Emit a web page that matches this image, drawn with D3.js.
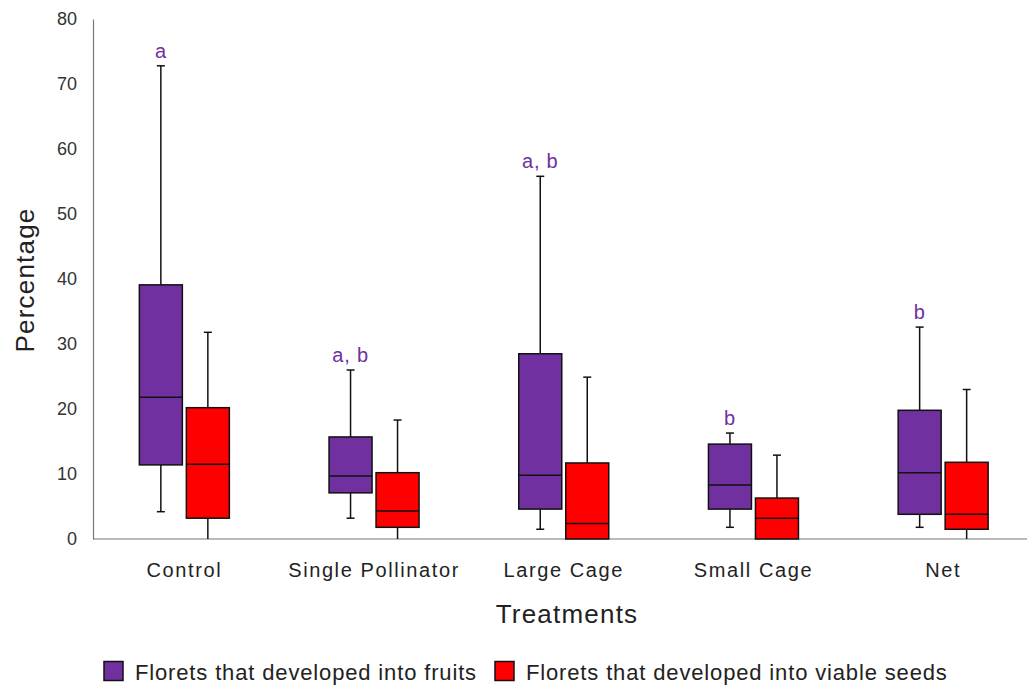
<!DOCTYPE html>
<html>
<head>
<meta charset="utf-8">
<script src="https://cdn.jsdelivr.net/npm/d3@7"></script>
<style>
  body { margin: 0; background: #fff; }
  text { font-family: "Liberation Sans", Arial, sans-serif; }
</style>
</head>
<body>
<svg id="chart" width="1027" height="686"></svg>
<script>
const treatments = ["Control", "Single Pollinator", "Large Cage", "Small Cage", "Net"];
const seriesNames = ["Florets that developed into fruits", "Florets that developed into viable seeds"];
const seriesColors = ["#7030a0", "#ff0000"];

// [min, q1, median, q3, max] per treatment
const fruits = [
  [4.2, 11.4, 21.8, 39.1, 72.8],
  [3.2, 7.1, 9.7, 15.7, 26.0],
  [1.5, 4.6, 9.8, 28.5, 55.8],
  [1.8, 4.6, 8.3, 14.6, 16.3],
  [1.8, 3.8, 10.2, 19.8, 32.6]
];
const seeds = [
  [0, 3.2, 11.5, 20.2, 31.8],
  [0, 1.8, 4.3, 10.2, 18.3],
  [0, 0, 2.4, 11.7, 24.9],
  [0, 0, 3.2, 6.3, 12.9],
  [0, 1.5, 3.8, 11.8, 23.0]
];
const letters = ["a", "a, b", "a, b", "b", "b"];
const yTicks = [0, 10, 20, 30, 40, 50, 60, 70, 80];

const svg = d3.select("#chart");

const x = d3.scaleBand().domain(treatments).range([89.5, 1038]);
const inner = d3.scaleBand().domain([0, 1]).range([-45, 45]).paddingInner(0.085);
const y = d3.scaleLinear().domain([0, 80]).range([539, 19]);

// y axis
const yAxis = svg.append("g")
  .attr("transform", "translate(93,0)")
  .call(d3.axisLeft(y).tickValues(yTicks).tickSize(0).tickPadding(16));
yAxis.select(".domain").attr("stroke", "#777").attr("stroke-width", 1.2);
yAxis.selectAll("text").attr("font-size", 18).attr("fill", "#333")
  .attr("font-family", "Liberation Sans, Arial, sans-serif");

// x axis
const xAxis = svg.append("g")
  .attr("transform", "translate(0,539)")
  .call(d3.axisBottom(x).tickSize(0).tickPadding(24));
xAxis.select(".domain").attr("d", "M93,0H1027").attr("stroke", "#777").attr("stroke-width", 1.2);
xAxis.selectAll("text").attr("font-size", 20).attr("fill", "#222")
  .attr("letter-spacing", 1.6)
  .attr("font-family", "Liberation Sans, Arial, sans-serif");

// axis titles
svg.append("text")
  .attr("transform", "translate(34,280) rotate(-90)")
  .attr("text-anchor", "middle")
  .attr("font-size", 26)
  .attr("letter-spacing", 1.2)
  .attr("fill", "#222")
  .text("Percentage");

svg.append("text")
  .attr("x", 567)
  .attr("y", 623)
  .attr("text-anchor", "middle")
  .attr("font-size", 26)
  .attr("letter-spacing", 1.2)
  .attr("fill", "#222")
  .text("Treatments");

// boxes
[fruits, seeds].forEach((series, si) => {
  const g = svg.append("g");
  series.forEach((s, i) => {
    const left = x(treatments[i]) + x.bandwidth() / 2 + inner(si);
    const w = inner.bandwidth();
    const cx = left + w / 2;
    // whisker line
    g.append("line")
      .attr("x1", cx).attr("x2", cx)
      .attr("y1", y(s[0])).attr("y2", y(s[4]))
      .attr("stroke", "#111").attr("stroke-width", 1.5);
    // caps
    [s[0], s[4]].forEach(v => {
      if (v > 0) {
        g.append("line")
          .attr("x1", cx - 4).attr("x2", cx + 4)
          .attr("y1", y(v)).attr("y2", y(v))
          .attr("stroke", "#111").attr("stroke-width", 1.5);
      }
    });
    g.append("rect")
      .attr("x", left).attr("width", w)
      .attr("y", y(s[3])).attr("height", y(s[1]) - y(s[3]))
      .attr("fill", seriesColors[si])
      .attr("stroke", "#111").attr("stroke-width", 1.5);
    g.append("line")
      .attr("x1", left).attr("x2", left + w)
      .attr("y1", y(s[2])).attr("y2", y(s[2]))
      .attr("stroke", "#111").attr("stroke-width", 1.5);
  });
});

// significance letters
svg.append("g").selectAll("text")
  .data(letters)
  .enter()
  .append("text")
  .attr("x", (d, i) => x(treatments[i]) + x.bandwidth() / 2 + inner(0) + inner.bandwidth() / 2)
  .attr("y", (d, i) => y(fruits[i][4]) - 8)
  .attr("text-anchor", "middle")
  .attr("font-size", 20)
  .attr("letter-spacing", 0.8)
  .attr("fill", "#7030a0")
  .text(d => d);

// legend
const legend = svg.append("g").attr("transform", "translate(0,671)");
const legendX = [104, 495];
seriesNames.forEach((name, i) => {
  legend.append("rect")
    .attr("x", legendX[i]).attr("y", -9.5)
    .attr("width", 19).attr("height", 19)
    .attr("fill", seriesColors[i])
    .attr("stroke", "#111").attr("stroke-width", 1.5);
  legend.append("text")
    .attr("x", legendX[i] + 31).attr("y", 9)
    .attr("font-size", 22)
    .attr("letter-spacing", 0.85)
    .attr("fill", "#222")
    .text(name);
});
</script>
</body>
</html>
